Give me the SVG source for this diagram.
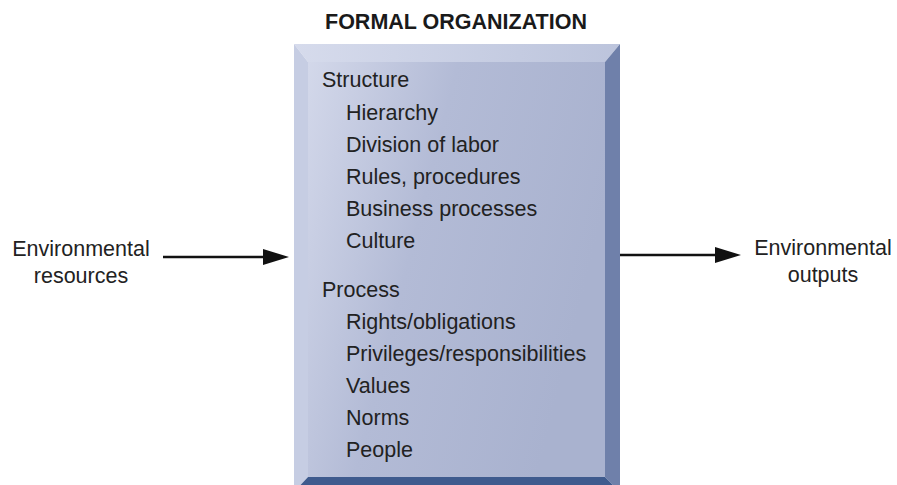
<svg xmlns="http://www.w3.org/2000/svg" width="897" height="485" viewBox="0 0 897 485">
<style>
text{font-family:"Liberation Sans",Arial,sans-serif;fill:#222;font-size:21.5px}
.title{font-weight:bold;font-size:21.5px;text-anchor:middle;fill:#1a1a1a}
.lbl{text-anchor:middle}
.conn{stroke:#111;stroke-width:2.5;fill:none}
</style>
<defs>
<linearGradient id="face" x1="0" y1="0" x2="1" y2="0.35">
<stop offset="0" stop-color="#d3d8ea"/>
<stop offset="0.45" stop-color="#b3bbd6"/>
<stop offset="1" stop-color="#a9b2cf"/>
</linearGradient>
<linearGradient id="topb" x1="0" y1="0" x2="1" y2="0">
<stop offset="0" stop-color="#d6dbec"/>
<stop offset="1" stop-color="#bcc4dc"/>
</linearGradient>
<marker id="ah" viewBox="0 0 10 10" refX="10" refY="5" markerWidth="10" markerHeight="6.4" markerUnits="userSpaceOnUse" orient="auto">
<path d="M0,0 L10,5 L0,10 z" fill="#111"/>
</marker>
</defs>
<text class="title" x="456" y="29">FORMAL ORGANIZATION</text>
<g id="formal-organization">
<polygon points="294,44 620,44 605,62 308,62" fill="url(#topb)"/>
<polygon points="294,44 308,62 308,477 294,492" fill="#c6cde3"/>
<polygon points="620,44 620,492 605,477 605,62" fill="#6f80aa"/>
<polygon points="294,492 308,477 605,477 620,492" fill="#3f5b8e"/>
<rect x="308" y="62" width="297" height="415" fill="url(#face)"/>
<text x="322" y="87">Structure</text>
<text x="346" y="119.5">Hierarchy</text>
<text x="346" y="152">Division of labor</text>
<text x="346" y="184">Rules, procedures</text>
<text x="346" y="216">Business processes</text>
<text x="346" y="248">Culture</text>
<text x="322" y="297">Process</text>
<text x="346" y="329">Rights/obligations</text>
<text x="346" y="361">Privileges/responsibilities</text>
<text x="346" y="393">Values</text>
<text x="346" y="425">Norms</text>
<text x="346" y="457">People</text>
</g>
<g id="env-resources">
<text class="lbl" x="81" y="256">Environmental</text>
<text class="lbl" x="81" y="283">resources</text>
</g>
<g id="env-outputs">
<text class="lbl" x="823" y="255">Environmental</text>
<text class="lbl" x="823" y="282">outputs</text>
</g>
<g id="connectors">
<line class="conn" x1="163" y1="257" x2="280" y2="257"/>
<path d="M263,249 L289,257 L263,265 z" fill="#111"/>
<line class="conn" x1="620" y1="255" x2="720" y2="255"/>
<path d="M715,247 L741,255 L715,263 z" fill="#111"/>
</g>
</svg>
